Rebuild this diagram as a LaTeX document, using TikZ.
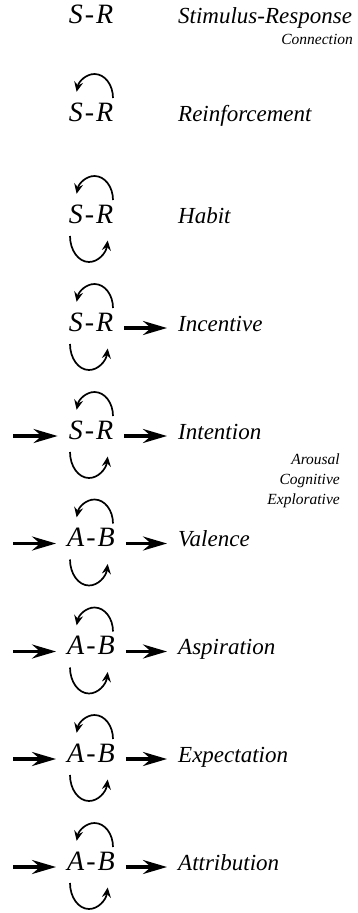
\documentclass[tikz,border=0pt]{standalone}
\usepackage{fontspec}
\setmainfont{Liberation Serif}
\usetikzlibrary{arrows.meta,positioning,calc}
\tikzset{
  pairnode/.style={
    inner xsep=11pt, inner ysep=0pt, text height=0.66em, text depth=0pt,
    font=\fontsize{28}{32}\selectfont\itshape
  },
  labelnode/.style={
    inner sep=0pt, anchor=west, text height=0.66em, text depth=0pt,
    font=\fontsize{23}{27}\selectfont\itshape
  },
  notenode/.style={inner sep=0pt, align=right, font=\fontsize{15.5}{20}\selectfont\itshape},
  flowarrow/.style={-{Stealth[length=24pt,width=14pt,inset=8pt]}, line width=3.2pt},
  outarrow/.style={flowarrow, shorten >=11pt},
  loopline/.style={-{Stealth[length=10pt,width=9pt,inset=3.5pt]}, line width=1.7pt},
}

\begin{document}
\begin{tikzpicture}[x=1pt, y=1pt]
    \useasboundingbox (0,0) rectangle (358,-913);
    % stage 1
    \node[pairnode] (sr1) at (91,-20) {S\kern2pt-\kern2pt R};
    \node[labelnode] (lab1) at (178,-20) {Stimulus-Response};
    \node[notenode, anchor=east] (con1) at (353,-39) {Connection};
    % stage 2
    \node[pairnode] (sr2) at (91,-118) {S\kern2pt-\kern2pt R};
    \node[labelnode] (lab2) at (178,-118) {Reinforcement};
    \draw[loopline] ($(sr2)+(22,20)$) arc[start angle=0, end angle=165, x radius=18.5pt, y radius=24pt];
    % stage 3
    \node[pairnode] (sr3) at (91,-220) {S\kern2pt-\kern2pt R};
    \node[labelnode] (lab3) at (178,-220) {Habit};
    \draw[loopline] ($(sr3)+(22,20)$) arc[start angle=0, end angle=165, x radius=18.5pt, y radius=24pt];
    \draw[loopline] ($(sr3)+(-21,-16)$) arc[start angle=180, end angle=350, x radius=19pt, y radius=26pt];
    % stage 4
    \node[pairnode] (sr4) at (91,-328) {S\kern2pt-\kern2pt R};
    \node[labelnode] (lab4) at (178,-328) {Incentive};
    \draw[loopline] ($(sr4)+(22,20)$) arc[start angle=0, end angle=165, x radius=18.5pt, y radius=24pt];
    \draw[loopline] ($(sr4)+(-21,-16)$) arc[start angle=180, end angle=350, x radius=19pt, y radius=26pt];
    \draw[outarrow] (sr4) -- (lab4);
    % stage 5
    \node[pairnode] (sr5) at (91,-436) {S\kern2pt-\kern2pt R};
    \node[labelnode] (lab5) at (178,-436) {Intention};
    \coordinate (in5) at (13,-436);
    \draw[loopline] ($(sr5)+(22,20)$) arc[start angle=0, end angle=165, x radius=18.5pt, y radius=24pt];
    \draw[loopline] ($(sr5)+(-21,-16)$) arc[start angle=180, end angle=350, x radius=19pt, y radius=26pt];
    \draw[outarrow] (sr5) -- (lab5);
    \draw[flowarrow] (in5) -- (sr5);
    \node[notenode, anchor=east] (drive) at (340,-481) {Arousal\\Cognitive\\Explorative};
    % stage 6
    \node[pairnode] (ab6) at (91,-543.5) {A\kern2pt-\kern2pt B};
    \node[labelnode] (lab6) at (178,-543.5) {Valence};
    \coordinate (in6) at (13,-543.5);
    \draw[loopline] ($(ab6)+(22,20)$) arc[start angle=0, end angle=165, x radius=18.5pt, y radius=24pt];
    \draw[loopline] ($(ab6)+(-21,-16)$) arc[start angle=180, end angle=350, x radius=19pt, y radius=26pt];
    \draw[outarrow] (ab6) -- (lab6);
    \draw[flowarrow] (in6) -- (ab6);
    % stage 7
    \node[pairnode] (ab7) at (91,-651.5) {A\kern2pt-\kern2pt B};
    \node[labelnode] (lab7) at (178,-651.5) {Aspiration};
    \coordinate (in7) at (13,-651.5);
    \draw[loopline] ($(ab7)+(22,20)$) arc[start angle=0, end angle=165, x radius=18.5pt, y radius=24pt];
    \draw[loopline] ($(ab7)+(-21,-16)$) arc[start angle=180, end angle=350, x radius=19pt, y radius=26pt];
    \draw[outarrow] (ab7) -- (lab7);
    \draw[flowarrow] (in7) -- (ab7);
    % stage 8
    \node[pairnode] (ab8) at (91,-759) {A\kern2pt-\kern2pt B};
    \node[labelnode] (lab8) at (178,-759) {Expectation};
    \coordinate (in8) at (13,-759);
    \draw[loopline] ($(ab8)+(22,20)$) arc[start angle=0, end angle=165, x radius=18.5pt, y radius=24pt];
    \draw[loopline] ($(ab8)+(-21,-16)$) arc[start angle=180, end angle=350, x radius=19pt, y radius=26pt];
    \draw[outarrow] (ab8) -- (lab8);
    \draw[flowarrow] (in8) -- (ab8);
    % stage 9
    \node[pairnode] (ab9) at (91,-867) {A\kern2pt-\kern2pt B};
    \node[labelnode] (lab9) at (178,-867) {Attribution};
    \coordinate (in9) at (13,-867);
    \draw[loopline] ($(ab9)+(22,20)$) arc[start angle=0, end angle=165, x radius=18.5pt, y radius=24pt];
    \draw[loopline] ($(ab9)+(-21,-16)$) arc[start angle=180, end angle=350, x radius=19pt, y radius=26pt];
    \draw[outarrow] (ab9) -- (lab9);
    \draw[flowarrow] (in9) -- (ab9);
  \end{tikzpicture}
\end{document}
